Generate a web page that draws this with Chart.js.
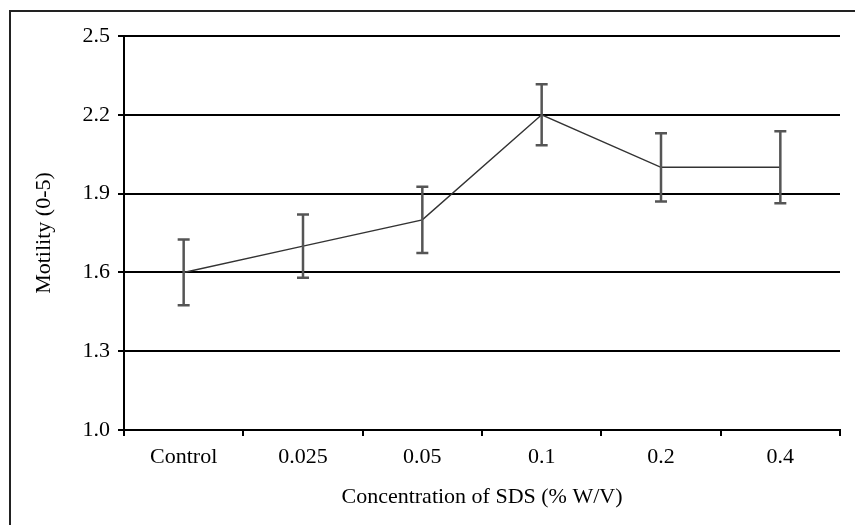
<!DOCTYPE html>
<html>
<head>
<meta charset="utf-8">
<script src="https://cdn.jsdelivr.net/npm/chart.js@4.4.1/dist/chart.umd.min.js"></script>
<style>
  html, body { margin: 0; padding: 0; background: #ffffff; }
  #wrap { width: 855px; height: 525px; position: relative; }
</style>
</head>
<body>
<div id="wrap"><canvas id="grafico"></canvas></div>
<script>
// Dados do gráfico
const categorias = ['Control', '0.025', '0.05', '0.1', '0.2', '0.4'];
const motilidade = [1.6, 1.7, 1.8, 2.2, 2.0, 2.0];
const erros = [0.125, 0.12, 0.126, 0.116, 0.13, 0.137];
const ticksY = [1.0, 1.3, 1.6, 1.9, 2.2, 2.5];

const fonte = { family: '"Liberation Serif", "Times New Roman", serif', size: 22 };

// Plugin para barras de erro
const barrasErro = {
  id: 'barrasErro',
  afterDatasetsDraw(chart) {
    const ctx = chart.ctx;
    const x = chart.scales.x;
    const y = chart.scales.y;
    ctx.save();
    ctx.strokeStyle = '#555555';
    ctx.lineWidth = 2.5;
    motilidade.forEach((v, i) => {
      const px = x.getPixelForValue(i);
      const yTop = y.getPixelForValue(v + erros[i]);
      const yBot = y.getPixelForValue(v - erros[i]);
      ctx.beginPath();
      ctx.moveTo(px, yTop);
      ctx.lineTo(px, yBot);
      ctx.moveTo(px - 6, yTop);
      ctx.lineTo(px + 6, yTop);
      ctx.moveTo(px - 6, yBot);
      ctx.lineTo(px + 6, yBot);
      ctx.stroke();
    });
    ctx.restore();
  }
};

// Moldura externa (só esquerda e topo aparecem)
const moldura = {
  id: 'moldura',
  beforeDraw(chart) {
    const ctx = chart.ctx;
    ctx.save();
    ctx.strokeStyle = '#222222';
    ctx.lineWidth = 2;
    ctx.beginPath();
    ctx.moveTo(10, chart.height + 5);
    ctx.lineTo(10, 11);
    ctx.lineTo(chart.width + 5, 11);
    ctx.stroke();
    ctx.restore();
  }
};

new Chart(document.getElementById('grafico'), {
  type: 'line',
  data: {
    labels: categorias,
    datasets: [{
      data: motilidade,
      borderColor: '#333333',
      borderWidth: 1.5,
      pointRadius: 0,
      tension: 0,
      fill: false
    }]
  },
  options: {
    responsive: true,
    maintainAspectRatio: false,
    devicePixelRatio: 1,
    animation: false,
    layout: { padding: { left: 31, right: 15, top: 36, bottom: 15 } },
    plugins: {
      legend: { display: false },
      tooltip: { enabled: false }
    },
    scales: {
      x: {
        offset: true,
        afterFit(scale) { scale.height = 80; },
        border: { display: true, color: '#000000', width: 2 },
        grid: {
          offset: true,
          drawOnChartArea: false,
          drawTicks: true,
          tickLength: 6,
          color: '#000000',
          lineWidth: 2
        },
        ticks: { color: '#000000', font: fonte, padding: 8, maxRotation: 0 },
        title: {
          display: true,
          text: 'Concentration of SDS (% W/V)',
          color: '#000000',
          font: fonte,
          padding: 0
        }
      },
      y: {
        min: 1.0,
        max: 2.5,
        afterFit(scale) { scale.width = 93; },
        afterBuildTicks(scale) { scale.ticks = ticksY.map(v => ({ value: v })); },
        border: { display: true, color: '#000000', width: 2 },
        grid: {
          color: '#000000',
          lineWidth: 2,
          tickLength: 6
        },
        ticks: {
          color: '#000000',
          font: fonte,
          padding: 8,
          callback: v => Number(v).toFixed(1)
        },
        title: {
          display: true,
          text: 'Motility (0-5)',
          color: '#000000',
          font: fonte,
          padding: 0
        }
      }
    }
  },
  plugins: [moldura, barrasErro]
});
</script>
</body>
</html>
